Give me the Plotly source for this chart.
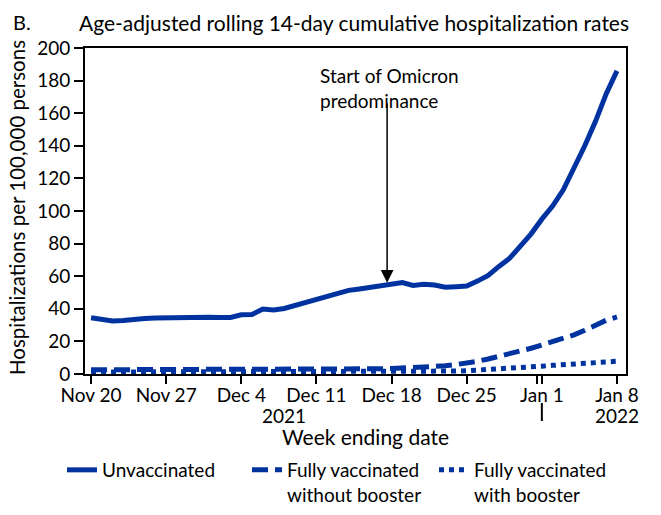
import pandas as pd
import plotly.graph_objects as go

# ---- data ----
dates = pd.date_range("2021-11-20", "2022-01-08", freq="D")

unvaccinated = [34.5, 33.5, 32.5, 32.8, 33.6, 34.1, 34.4, 34.6, 34.4, 34.3,
                34.6, 34.8, 34.7, 34.7, 36.3, 36.5, 39.8, 39.3, 40.2, 42.0,
                44.0, 46.0, 47.8, 49.8, 51.3, 52.2, 53.2, 54.5, 55.8, 56.1,
                54.3, 55.0, 54.6, 53.2, 53.6, 54.0, 57.0, 60.5, 66.0, 71.0,
                78.5, 86.0, 95.0, 103.0, 113.0, 126.0, 140.0, 155.0, 172.0, 186.0]

vacc_no_booster = [2.6, 2.6, 2.5, 2.5, 2.6, 2.6, 2.7, 2.7, 2.7, 2.7,
                   2.8, 2.8, 2.8, 2.8, 2.9, 2.9, 2.9, 2.9, 2.9, 3.0,
                   3.0, 3.0, 3.0, 3.0, 3.0, 3.0, 3.1, 3.2, 3.4, 3.6,
                   3.8, 4.0, 4.5, 5.0, 5.8, 6.6, 7.8, 9.2, 10.8, 12.2,
                   13.8, 15.8, 17.8, 19.6, 21.6, 24.0, 26.8, 30.0, 33.0, 35.0]

vacc_booster = [1.2, 1.2, 1.2, 1.2, 1.2, 1.2, 1.2, 1.2, 1.2, 1.2,
                1.2, 1.2, 1.2, 1.2, 1.3, 1.3, 1.3, 1.3, 1.3, 1.3,
                1.3, 1.3, 1.3, 1.4, 1.4, 1.4, 1.4, 1.4, 1.5, 1.5,
                1.5, 1.5, 1.6, 1.6, 1.8, 2.0, 2.3, 2.6, 3.0, 3.3,
                3.8, 4.3, 4.8, 5.3, 5.8, 6.2, 6.7, 7.1, 7.5, 7.8]

series_names = ["Unvaccinated", "Fully vaccinated<br>without booster",
                "Fully vaccinated<br>with booster"]

tick_dates = ["2021-11-20", "2021-11-27", "2021-12-04", "2021-12-11",
              "2021-12-18", "2021-12-25", "2022-01-01", "2022-01-08"]
tick_labels = ["Nov 20", "Nov 27", "Dec 4", "Dec 11", "Dec 18", "Dec 25",
               "Jan 1", "Jan 8"]
y_ticks = [0, 20, 40, 60, 80, 100, 120, 140, 160, 180, 200]

omicron_date = "2021-12-17 14:00"
omicron_value = 56

# ---- style ----
BLUE = "#0033a0"
FONT = "Lato"
FS = 19

fig = go.Figure()
fig.add_trace(go.Scatter(x=dates, y=unvaccinated, mode="lines", name=series_names[0],
                         line=dict(color=BLUE, width=5), legend="legend"))
fig.add_trace(go.Scatter(x=dates, y=vacc_no_booster, mode="lines", name=series_names[1],
                         line=dict(color=BLUE, width=5, dash="16px,7px"), legend="legend2"))
fig.add_trace(go.Scatter(x=dates, y=vacc_booster, mode="lines", name=series_names[2],
                         line=dict(color=BLUE, width=5, dash="5px,5px"), legend="legend3"))

leg_common = dict(orientation="v", xanchor="left", yanchor="top", valign="top",
                  font=dict(family=FONT, size=FS, color="black"),
                  bgcolor="rgba(0,0,0,0)", borderwidth=0, tracegroupgap=0)

# positions in paper coords (plot area: x 85..626 px, y 48..374 px)
PL, PR, PT, PB = 85, 626, 48, 374

def px_x(p):
    return (p - PL) / float(PR - PL)

def px_y(p):
    return (PB - p) / float(PB - PT)

fig.update_layout(
    width=661, height=515,
    margin=dict(l=PL, r=661 - PR, t=PT, b=515 - PB, autoexpand=False),
    paper_bgcolor="white", plot_bgcolor="white",
    font=dict(family=FONT, size=FS, color="black"),
    showlegend=True,
    legend=dict(x=px_x(62), y=px_y(451), **leg_common),
    legend2=dict(x=px_x(247), y=px_y(451), **leg_common),
    legend3=dict(x=px_x(434), y=px_y(451), **leg_common),
    xaxis=dict(
        range=["2021-11-19 10:30", "2022-01-08 20:10"],
        tickmode="array",
        tickvals=tick_dates + ["2021-12-31 14:00"],
        ticktext=tick_labels + [""],
        ticks="outside", ticklen=8, tickwidth=2, tickcolor="black",
        ticklabelstandoff=-5,
        showline=True, linecolor="black", linewidth=2, mirror=True,
        showgrid=False, zeroline=False,
        tickfont=dict(family=FONT, size=FS, color="black"),
    ),
    yaxis=dict(
        range=[0, 200],
        tickmode="array", tickvals=y_ticks,
        ticks="outside", ticklen=9, tickwidth=2, tickcolor="black",
        showline=True, linecolor="black", linewidth=2, mirror=True,
        showgrid=False, zeroline=False,
        tickfont=dict(family=FONT, size=FS, color="black"),
    ),
)

annotations = [
    dict(text="B.", xref="paper", yref="paper", x=px_x(11), y=px_y(22),
         xanchor="left", yanchor="middle", showarrow=False,
         font=dict(family=FONT, size=FS + 1, color="black")),
    dict(text="Age-adjusted rolling 14-day cumulative hospitalization rates",
         xref="paper", yref="paper", x=px_x(77), y=px_y(22),
         xanchor="left", yanchor="middle", showarrow=False,
         font=dict(family=FONT, size=21, color="black")),
    dict(text="Hospitalizations per 100,000 persons", xref="paper", yref="paper",
         x=px_x(17.5), y=px_y(207.5), textangle=-90, xanchor="center", yanchor="middle",
         showarrow=False, font=dict(family=FONT, size=20.5, color="black")),
    dict(text="Week ending date", xref="paper", yref="paper",
         x=px_x(365), y=px_y(436), xanchor="center", yanchor="middle",
         showarrow=False, font=dict(family=FONT, size=21, color="black")),
    dict(text="2021", xref="x", yref="paper", x="2021-12-08", y=px_y(415),
         xanchor="center", yanchor="middle", showarrow=False,
         font=dict(family=FONT, size=FS, color="black")),
    dict(text="2022", xref="x", yref="paper", x="2022-01-08", y=px_y(415),
         xanchor="center", yanchor="middle", showarrow=False,
         font=dict(family=FONT, size=FS, color="black")),
    dict(text="Start of Omicron<br>predominance", xref="paper", yref="paper",
         x=px_x(318), y=px_y(88), xanchor="left", yanchor="middle", align="left",
         showarrow=False, font=dict(family=FONT, size=FS, color="black")),
    dict(text="", xref="x", yref="y", x=omicron_date, y=omicron_value,
         axref="x", ayref="y", ax=omicron_date, ay=167,
         showarrow=True, arrowhead=2, arrowsize=1.7, arrowwidth=1.5,
         arrowcolor="black"),
]
fig.update_layout(annotations=annotations)

fig.add_shape(type="line", xref="x", yref="paper",
              x0="2022-01-01", x1="2022-01-01", y0=px_y(403), y1=px_y(421),
              line=dict(color="black", width=2))

fig.write_html("out.html", config={"displayModeBar": False},
               post_script="document.body.style.margin='0px';document.body.style.overflow='hidden';")
